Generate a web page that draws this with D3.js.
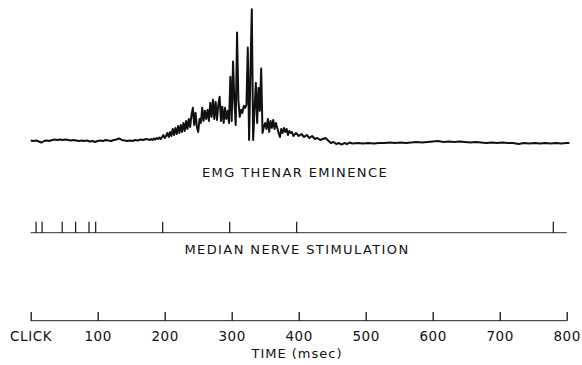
<!DOCTYPE html>
<html><head><meta charset="utf-8">
<script src="https://cdn.jsdelivr.net/npm/d3@7"></script>
<style>body{margin:0;background:#fff}svg{display:block}text{font-family:"DejaVu Sans",sans-serif;fill:#111}</style>
</head><body><svg id="c" width="582" height="365"></svg>
<script>
// EMG trace: [time ms, amplitude (arbitrary units)]
const emgTimes = [0,4,8,12,16,20,24,28,32,36,40,44,48,52,56,60,64,68,72,76,80,84,88,92,96,100,104,108,112,116,120,124,128,132,136,140,144,148,152,156,160,164,168,172,176,
178,180,182,184,186,188,190,192,194,196,198,200,202,204,206,208,210,212,214,216,218,220,222,224,226,228,230,232,234,236,238,240,242,244,246,248,250,252,254,256,258,260,262,264,266,268,270,272,274,276,278,280,282,284,286,288,290,292,294,296,298,300,302,304,306,308,310,312,314,316,318,320,322,324,326,328,330,332,334,336,338,340,342,344,346,348,350,352,354,356,358,360,362,364,366,368,370,372,374,376,378,380,382,384,386,388,390,
392,396,400,404,408,412,416,420,424,428,432,436,440,444,448,452,456,460,464,468,472,476,480,
488,496,504,512,520,528,536,544,552,560,568,576,584,592,600,608,616,624,632,640,648,656,664,672,680,688,696,704,712,720,728,736,744,752,760,768,776,784,792,800,804];
const emgValues = [0.5,0,0.5,-0.5,-1.5,0,0.5,0,1,1.5,1,1.5,1,1.5,1,0.5,1,0.5,0,0.5,0,0.5,-0.5,0,-1,0,0.5,0,1,0.5,0,1,1.5,2.5,1,0.5,0,0.5,0,1,0.5,1.5,1,2,1.5,
1,2,1,2.5,1.5,3,2,3.5,2,4,6,3,5,8,4,9,5,12,6,13,7,15,8,16,9,18,10,20,12,22,14,26,33,16,28,14,9,22,18,33,20,30,22,31,20,38,24,41,22,39,21,36,44,20,34,18,33,22,30,18,64,20,79,40,16,108,40,24,31,28,35,33,36,93,1,70,131,1,30,58,18,53,30,72,8,14,18,12,22,9,20,13,21,12,18,13,8,4,12,8,13,9,12,6,10,8,9,
5,8,5,7,4,6,3,5,2,3,1,2,3,0.5,-2,-1,-3,-2,-3.5,-2,-3,-1.5,-2.5,
-2,-2.5,-2,-2.5,-2,-2,-1.5,-2,-1.5,-2,-1.5,-1,-1.5,-1,-0.5,0,-1,-0.5,-1,-0.5,-1,-1.5,-1,-1.5,-2,-1.5,-2,-1.5,-2,-2,-3,-2,-2.5,-2,-2.5,-2,-2.5,-2,-2.5,-2,-2];
// Median nerve stimulus times (ms)
const stimTimes = [8,17,47,67,87,97,197,297,397,780];
// Time axis ticks
const tickValues = [0,100,200,300,400,500,600,700,800];
const tickLabels = ["CLICK","100","200","300","400","500","600","700","800"];
const titles = {emg:"EMG THENAR EMINENCE", stim:"MEDIAN NERVE STIMULATION", axis:"TIME (msec)"};

const svg = d3.select("#c");
const x = d3.scaleLinear().domain([0,800]).range([30.7,566.7]);
const yE = d3.scaleLinear().domain([0,131]).range([141,9.3]);

const emg = emgTimes.map((t,i)=>[t,emgValues[i]]);
svg.append("path").datum(emg)
  .attr("d", d3.line().x(d=>x(d[0])).y(d=>yE(d[1])))
  .attr("fill","none").attr("stroke","#111").attr("stroke-width",2).attr("stroke-linejoin","round");

svg.append("text").attr("x",295).attr("y",176.7).attr("text-anchor","middle")
  .attr("font-size",13).attr("letter-spacing",1.4).text(titles.emg);

// Stimulation channel
const stimY = 232.7;
svg.append("line").attr("x1",x(0)).attr("x2",x(800)).attr("y1",stimY).attr("y2",stimY)
  .attr("stroke","#333").attr("stroke-width",1);
svg.selectAll(".stim").data(stimTimes).join("line").attr("class","stim")
  .attr("x1",d=>x(d)).attr("x2",d=>x(d)).attr("y1",stimY).attr("y2",stimY-11)
  .attr("stroke","#111").attr("stroke-width",1.2);
svg.append("text").attr("x",297).attr("y",253.5).attr("text-anchor","middle")
  .attr("font-size",13).attr("letter-spacing",1.4).text(titles.stim);

// Time axis
const axY = 320.7;
const axis = d3.axisTop(x).tickValues(tickValues).tickSize(8.7).tickFormat("");
const g = svg.append("g").attr("transform",`translate(0,${axY})`).call(axis);
g.select(".domain").attr("d",`M${x(0)},0H${x(800)}`).attr("stroke","#222").attr("stroke-width",1);
g.selectAll(".tick line").attr("stroke","#111").attr("stroke-width",1.3);
svg.selectAll(".tl").data(tickValues).join("text").attr("class","tl")
  .attr("x",d=>x(d)+0.5).attr("y",341).attr("text-anchor","middle")
  .attr("font-size",13.5).attr("letter-spacing",0.6).text((d,i)=>tickLabels[i]);
svg.append("text").attr("x",297).attr("y",358).attr("text-anchor","middle")
  .attr("font-size",13).attr("letter-spacing",1).text(titles.axis);
</script></body></html>
